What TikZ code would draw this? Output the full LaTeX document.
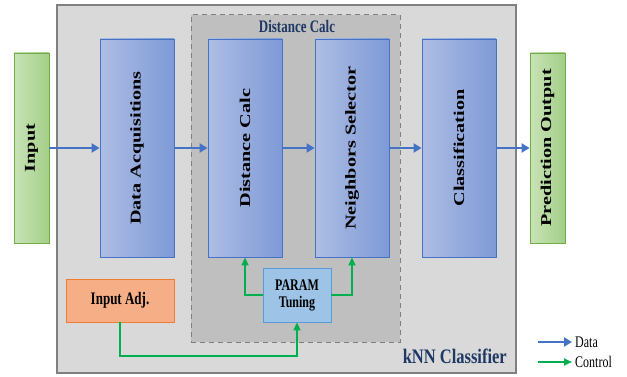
\documentclass[tikz,border=0pt]{standalone}
\usepackage{fontspec}
\setmainfont{Liberation Serif}
\usetikzlibrary{arrows.meta}
\definecolor{bluebd}{HTML}{4472C4}
\definecolor{bluel}{HTML}{AEBDE4}
\definecolor{bluer}{HTML}{7E9AD6}
\definecolor{greenbd}{HTML}{70AD47}
\definecolor{greenl}{HTML}{C9E3B8}
\definecolor{greenr}{HTML}{A3CF87}
\definecolor{orfill}{HTML}{F5AE86}
\definecolor{orbd}{HTML}{ED7D31}
\definecolor{pfill}{HTML}{9DC3E6}
\definecolor{pbd}{HTML}{5B9BD5}
\definecolor{navy}{HTML}{1F3864}
\definecolor{ctl}{HTML}{00B050}
\definecolor{dat}{HTML}{4472C4}
\newcommand{\vtxt}[1]{\rotatebox{90}{\scalebox{1.35}[1]{#1}}}
\newcommand{\htxt}[1]{\scalebox{1}[1.35]{#1}}
\tikzset{
  procbox/.style={draw=bluebd, line width=0.8pt, left color=bluel, right color=bluer, minimum width=74pt, minimum height=218pt, inner sep=0pt, font=\fontsize{15}{17}\selectfont\bfseries},
  iobox/.style={draw=greenbd, line width=0.8pt, left color=greenl, right color=greenr, minimum width=35pt, minimum height=190pt, inner sep=0pt, font=\fontsize{15}{17}\selectfont\bfseries},
  dataarrow/.style={draw=dat, line width=2pt, -{Triangle[length=8pt,width=9pt]}},
  ctlarrow/.style={draw=ctl, line width=1.5pt, -{Triangle[length=8pt,width=7pt]}}
}
\begin{document}
\begin{tikzpicture}[x=1pt,y=-1pt]
\useasboundingbox (0,0) rectangle (627,377);
% outer classifier box
\node[draw=gray, line width=1.2pt, fill={rgb,255:red,217;green,217;blue,217}, minimum width=459pt, minimum height=368pt, inner sep=0pt] (knn) at (286.5,189) {};
\node[text=navy, font=\fontsize{16.5}{18}\selectfont\bfseries, anchor=east, inner sep=0pt] (knnlab) at (507,356) {\scalebox{1}[1.25]{kNN Classifier}};
% dashed box
\node[draw=gray, dashed, line width=1pt, dash pattern=on 5pt off 4pt, fill={rgb,255:red,191;green,191;blue,191}, minimum width=209pt, minimum height=327pt, inner sep=0pt] (dc) at (295.5,178.5) {};
\node[text=navy, font=\fontsize{13}{15}\selectfont\bfseries, inner sep=0pt] (dclab) at (297,26) {\htxt{Distance Calc}};
% boxes
\node[iobox] (in) at (31.5,148) {\vtxt{Input}};
\node[procbox] (da) at (137,148) {\vtxt{Data Acquisitions}};
\node[procbox] (dist) at (245,148) {\vtxt{Distance Calc}};
\node[procbox] (ns) at (352,148) {\vtxt{Neighbors Selector}};
\node[procbox] (cl) at (459,148) {\vtxt{Classification}};
\node[iobox] (out) at (547.5,148) {\vtxt{Prediction Output}};
\node[draw=orbd, line width=0.8pt, fill=orfill, minimum width=108pt, minimum height=43pt, inner sep=0pt, font=\fontsize{13}{15}\selectfont\bfseries] (adj) at (120,300.5) {\htxt{Input Adj.}};
\node[draw=pbd, line width=0.8pt, fill=pfill, minimum width=68pt, minimum height=54pt, inner sep=0pt, font=\fontsize{12}{14}\selectfont\bfseries] (param) at (297,295) {\htxt{\begin{tabular}{@{}c@{}}PARAM\\[-1pt]Tuning\end{tabular}}};
% data arrows
\draw[dataarrow] (in.east) -- (da.west);
\draw[dataarrow] (da.east) -- (dist.west);
\draw[dataarrow] (dist.east) -- (ns.west);
\draw[dataarrow] (ns.east) -- (cl.west);
\draw[dataarrow] (cl.east) -- (out.west);
% control arrows
\draw[ctlarrow] (adj.south) |- (297,356) -- (param.south);
\draw[ctlarrow] (param.west) -| (dist.south);
\draw[ctlarrow] (param.east) -| (ns.south);
% legend
\coordinate (l1a) at (538,342);
\coordinate (l1b) at (572,342);
\coordinate (l2a) at (538,362);
\coordinate (l2b) at (572,362);
\draw[dataarrow, line width=2.6pt] (l1a) -- (l1b);
\draw[ctlarrow, line width=2.2pt] (l2a) -- (l2b);
\node[anchor=west, font=\fontsize{12}{14}\selectfont, inner sep=1pt] (ldat) at (574,342) {\htxt{Data}};
\node[anchor=west, font=\fontsize{12}{14}\selectfont, inner sep=1pt] (lctl) at (574,362) {\htxt{Control}};
\end{tikzpicture}
\end{document}
